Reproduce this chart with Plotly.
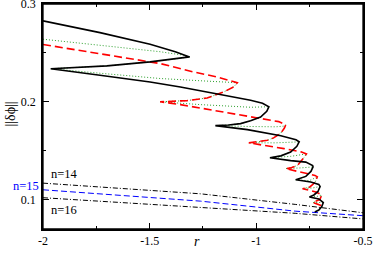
import plotly.graph_objects as go

# ---- data ----
black_r = [-2.000, -1.733, -1.498, -1.380, -1.313,
           -1.380, -1.498, -1.700, -1.851, -1.964,
           -1.733, -1.498, -1.356, -1.121, -1.027, -0.971, -0.941,
           -0.951, -0.980, -1.027, -1.074, -1.130, -1.192,
           -1.042, -0.885, -0.814, -0.799,
           -0.810, -0.839, -0.885, -0.936,
           -0.839, -0.768, -0.736, -0.734,
           -0.744, -0.768, -0.815,
           -0.745, -0.707, -0.701,
           -0.711, -0.730, -0.751,
           -0.707, -0.686,
           -0.693, -0.707, -0.726]
black_y = [0.2829, 0.2708, 0.2590, 0.2513, 0.2460,
           0.2439, 0.2409, 0.2368, 0.2349, 0.2339,
           0.2273, 0.2204, 0.2153, 0.2060, 0.2016, 0.1986, 0.1950,
           0.1904, 0.1845, 0.1806, 0.1778, 0.1763, 0.1757,
           0.1716, 0.1653, 0.1612, 0.1591,
           0.1545, 0.1487, 0.1448, 0.1429,
           0.1399, 0.1384, 0.1350, 0.1335,
           0.1289, 0.1238, 0.1204,
           0.1181, 0.1156, 0.1135,
           0.1084, 0.1048, 0.1028,
           0.1007, 0.0971,
           0.0930, 0.0894, 0.0874]

red_r = [-2.000, -1.733, -1.451, -1.294, -1.184, -1.089,
         -1.105, -1.153, -1.231, -1.325, -1.451,
         -1.356, -1.168, -1.027, -0.895, -0.862,
         -0.869, -0.886, -0.919, -0.948, -1.003, -1.035,
         -0.870, -0.791, -0.765,
         -0.776, -0.807, -0.839, -0.862,
         -0.768, -0.725, -0.714,
         -0.725, -0.749, -0.783,
         -0.721, -0.693,
         -0.702, -0.735,
         -0.697, -0.683]
red_y = [0.2587, 0.2493, 0.2392, 0.2306, 0.2255, 0.2196,
         0.2155, 0.2101, 0.2040, 0.2013, 0.2001,
         0.1972, 0.1899, 0.1844, 0.1798, 0.1765,
         0.1730, 0.1678, 0.1632, 0.1607, 0.1588, 0.1581,
         0.1522, 0.1489, 0.1468,
         0.1432, 0.1350, 0.1325, 0.1317,
         0.1274, 0.1248, 0.1233,
         0.1176, 0.1130, 0.1112,
         0.1079, 0.1048,
         0.1002, 0.0971,
         0.0941, 0.0910]

green_r = [-2.000, -1.733, -1.451, -1.341, -1.313,
           -1.380, -1.498, -1.700, -1.851, -1.964,
           -1.733, -1.451, -1.262, -1.089,
           -1.105, -1.153, -1.231, -1.325, -1.451,
           -1.262, -1.027, -0.941,
           -0.951, -0.980, -1.027, -1.074, -1.130, -1.192,
           -1.027, -0.909, -0.870, -0.862,
           -0.869, -0.886, -0.919, -0.948, -1.003, -1.035,
           -0.910, -0.799,
           -0.810, -0.839, -0.885, -0.936,
           -0.839, -0.765,
           -0.776, -0.807, -0.839, -0.862,
           -0.791, -0.734,
           -0.744, -0.768, -0.815,
           -0.753, -0.714,
           -0.725, -0.749, -0.783,
           -0.735, -0.701,
           -0.711, -0.730, -0.751,
           -0.716, -0.693,
           -0.702, -0.735,
           -0.707, -0.686]
green_y = [0.2641, 0.2579, 0.2513, 0.2477, 0.2460,
           0.2439, 0.2409, 0.2368, 0.2349, 0.2339,
           0.2293, 0.2239, 0.2216, 0.2196,
           0.2155, 0.2101, 0.2040, 0.2013, 0.2001,
           0.1972, 0.1945, 0.1950,
           0.1904, 0.1845, 0.1806, 0.1778, 0.1763, 0.1757,
           0.1748, 0.1745, 0.1752, 0.1765,
           0.1730, 0.1678, 0.1632, 0.1607, 0.1588, 0.1581,
           0.1581, 0.1591,
           0.1545, 0.1487, 0.1448, 0.1429,
           0.1443, 0.1468,
           0.1432, 0.1350, 0.1325, 0.1317,
           0.1325, 0.1335,
           0.1289, 0.1238, 0.1204,
           0.1193, 0.1233,
           0.1176, 0.1130, 0.1112,
           0.1120, 0.1135,
           0.1084, 0.1048, 0.1028,
           0.1033, 0.1048,
           0.1002, 0.0971,
           0.0971, 0.0971]

n_r = [-2.0, -1.262, -0.815, -0.5]
n14_y = [0.1169, 0.1060, 0.0951, 0.0866]
n15_y = [0.1101, 0.0985, 0.0882, 0.0836]
n16_y = [0.1020, 0.0917, 0.0860, 0.0803]

x_ticks = [-2, -1.5, -1, -0.5]
x_tick_text = ["-2", "-1.5", "-1", "-0.5"]
y_ticks = [0.1, 0.2, 0.3]
y_tick_text = ["0.1", "0.2", "0.3"]

FONT = "Liberation Serif"

fig = go.Figure()
fig.add_trace(go.Scatter(x=n_r, y=n14_y, mode="lines",
                         line=dict(color="black", width=1, dash="5px,2px,1px,2px")))
fig.add_trace(go.Scatter(x=n_r, y=n16_y, mode="lines",
                         line=dict(color="black", width=1, dash="5px,2px,1px,2px")))
fig.add_trace(go.Scatter(x=n_r, y=n15_y, mode="lines",
                         line=dict(color="#0000ff", width=1, dash="6px,3px")))
fig.add_trace(go.Scatter(x=green_r, y=green_y, mode="lines",
                         line=dict(color="#2ca02c", width=1, dash="1px,2px")))
fig.add_trace(go.Scatter(x=red_r, y=red_y, mode="lines",
                         line=dict(color="#ff0000", width=1.6, dash="8px,4px")))
fig.add_trace(go.Scatter(x=black_r, y=black_y, mode="lines",
                         line=dict(color="black", width=1.6)))

axis_common = dict(showgrid=False, zeroline=False, showline=True, linecolor="black",
                   linewidth=1.5, mirror="ticks", ticks="inside", ticklen=6,
                   tickcolor="black", tickwidth=1, automargin=False,
                   ticklabeloverflow="allow",
                   tickfont=dict(family=FONT, size=12, color="black"))

fig.update_xaxes(range=[-2, -0.4999], tickvals=x_ticks, ticktext=x_tick_text,
                 minor=dict(dtick=0.25, tick0=-2, ticks="inside", ticklen=3,
                            tickcolor="black"),
                 **axis_common)
fig.update_yaxes(range=[0.07, 0.3001], tickvals=y_ticks, ticktext=y_tick_text,
                 ticklabelstandoff=3,
                 minor=dict(dtick=0.05, tick0=0, ticks="inside", ticklen=3,
                            tickcolor="black"),
                 **axis_common)

# plot frame
fig.add_shape(type="rect", xref="paper", yref="paper", x0=0, x1=1, y0=0, y1=1,
              line=dict(color="black", width=1.3), fillcolor="rgba(0,0,0,0)",
              layer="above")

ann_font = dict(family=FONT, size=12.5, color="black")
fig.add_annotation(x=-1.972, y=0.1258, text="n=14", showarrow=False,
                   xanchor="left", yanchor="middle", font=ann_font)
fig.add_annotation(x=-1.972, y=0.0897, text="n=16", showarrow=False,
                   xanchor="left", yanchor="middle", font=ann_font)
fig.add_annotation(x=-2.0, y=0.1135, text="n=15", showarrow=False, xshift=-2,
                   xanchor="right", yanchor="middle",
                   font=dict(family=FONT, size=12.5, color="#0000ff"))
fig.add_annotation(xref="paper", yref="paper", x=0.48, y=-0.056, text="<i>r</i>",
                   showarrow=False, xanchor="center", yanchor="middle",
                   font=dict(family=FONT, size=14, color="black"))
fig.add_annotation(xref="paper", yref="paper", x=-0.103, y=0.509, text="||δϕ||",
                   showarrow=False, textangle=-90, xanchor="center", yanchor="middle",
                   font=dict(family=FONT, size=14, color="black"))

fig.update_layout(width=374, height=255, margin=dict(l=43, r=11, t=4, b=26),
                  showlegend=False, paper_bgcolor="white", plot_bgcolor="white")

fig.write_html("out.html", config={"displayModeBar": False},
               post_script="document.body.style.margin='0';document.body.style.padding='0';")
